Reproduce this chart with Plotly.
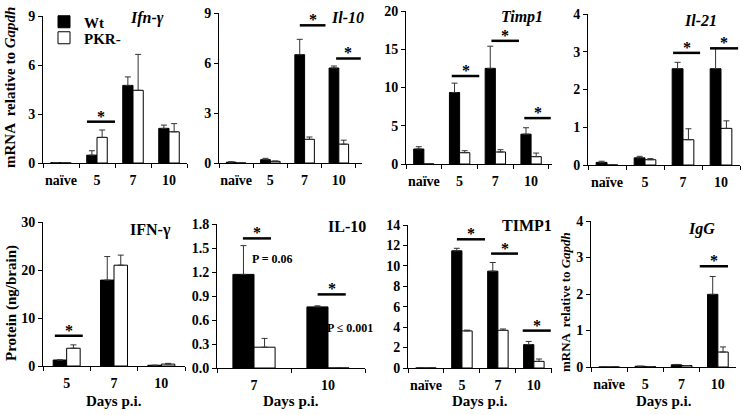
import plotly.graph_objects as go

W, H = 743, 415
FONT = "Liberation Serif, Times New Roman, serif"

# ---------------- data ----------------
cats4 = ["naïve", "5", "7", "10"]
cats3 = ["5", "7", "10"]
cats2 = ["7", "10"]

# mRNA panels (top row)
ifng_wt = [0.02, 0.48, 4.75, 2.12]
ifng_wt_err = [0.0, 0.27, 0.52, 0.20]
ifng_pkr = [0.0, 1.57, 4.45, 1.91]
ifng_pkr_err = [0.0, 0.45, 2.20, 0.50]

il10_wt = [0.05, 0.20, 6.50, 5.70]
il10_wt_err = [0.02, 0.08, 0.92, 0.12]
il10_pkr = [0.0, 0.10, 1.42, 1.13]
il10_pkr_err = [0.0, 0.02, 0.14, 0.24]

timp1_wt = [1.96, 9.35, 12.5, 3.90]
timp1_wt_err = [0.30, 1.22, 2.90, 0.84]
timp1_pkr = [0.0, 1.48, 1.57, 0.96]
timp1_pkr_err = [0.0, 0.26, 0.30, 0.47]

il21_wt = [0.07, 0.19, 2.55, 2.55]
il21_wt_err = [0.03, 0.04, 0.17, 0.55]
il21_pkr = [0.0, 0.14, 0.67, 0.97]
il21_pkr_err = [0.0, 0.03, 0.29, 0.20]

# protein panels + IgG (bottom row)
pifng_wt = [1.25, 17.9, 0.15]
pifng_wt_err = [0.0, 4.9, 0.0]
pifng_pkr = [3.7, 21.0, 0.40]
pifng_pkr_err = [0.7, 2.1, 0.15]

pil10_wt = [1.17, 0.764]
pil10_wt_err = [0.36, 0.013]
pil10_pkr = [0.26, 0.0]
pil10_pkr_err = [0.11, 0.0]

ptimp1_wt = [0.0, 11.47, 9.48, 2.29]
ptimp1_wt_err = [0.0, 0.25, 0.85, 0.31]
ptimp1_pkr = [0.0, 3.63, 3.69, 0.65]
ptimp1_pkr_err = [0.0, 0.08, 0.13, 0.23]

igg_wt = [0.0, 0.02, 0.06, 1.99]
igg_wt_err = [0.0, 0.0, 0.01, 0.49]
igg_pkr = [0.0, 0.01, 0.04, 0.41]
igg_pkr_err = [0.0, 0.0, 0.0, 0.14]

# significance marks: (panel index, category index, level)
sig_marks = [
    (0, 1, 2.53),
    (1, 2, 8.26), (1, 3, 6.27),
    (2, 1, 11.5), (2, 2, 16.1), (2, 3, 6.0),
    (3, 2, 2.97), (3, 3, 3.09),
    (4, 0, 6.3),
    (5, 0, 1.62), (5, 1, 0.92),
    (6, 1, 12.6), (6, 2, 11.2), (6, 3, 3.66),
    (7, 3, 2.76),
]
# horizontal extent of each significance line, relative to category centre
sig_extent = [
    (-0.28, 0.50),
    (-0.14, 0.61), (-0.08, 0.64),
    (-0.22, 0.55), (-0.11, 0.66), (-0.19, 0.55),
    (-0.26, 0.45), (-0.29, 0.45),
    (-0.25, 0.34),
    (-0.15, 0.23), (-0.14, 0.24),
    (-0.14, 0.64), (-0.19, 0.56), (-0.31, 0.47),
    (-0.50, 0.28),
]

panels = [
    dict(title="<i>Ifn-γ</i>", cats=cats4, wt=ifng_wt, wte=ifng_wt_err, pk=ifng_pkr, pke=ifng_pkr_err,
         yr=[0, 9], dt=3, fmt=None, px=(43, 187), py=(16, 163), tpos=(147, 18)),
    dict(title="<i>Il-10</i>", cats=cats4, wt=il10_wt, wte=il10_wt_err, pk=il10_pkr, pke=il10_pkr_err,
         yr=[0, 9], dt=3, fmt=None, px=(219, 362), py=(13, 163), tpos=(347, 17)),
    dict(title="<i>Timp1</i>", cats=cats4, wt=timp1_wt, wte=timp1_wt_err, pk=timp1_pkr, pke=timp1_pkr_err,
         yr=[0, 20], dt=5, fmt=None, px=(406, 552), py=(11, 164), tpos=(522, 17)),
    dict(title="<i>Il-21</i>", cats=cats4, wt=il21_wt, wte=il21_wt_err, pk=il21_pkr, pke=il21_pkr_err,
         yr=[0, 4], dt=1, fmt=None, px=(588, 740), py=(14, 165), tpos=(700, 20)),
    dict(title="IFN-γ", cats=cats3, wt=pifng_wt, wte=pifng_wt_err, pk=pifng_pkr, pke=pifng_pkr_err,
         yr=[0, 30], dt=10, fmt=None, px=(43, 185), py=(222, 366), tpos=(150, 230)),
    dict(title="IL-10", cats=cats2, wt=pil10_wt, wte=pil10_wt_err, pk=pil10_pkr, pke=pil10_pkr_err,
         yr=[0, 1.8], dt=0.3, fmt=".1f", px=(217, 365), py=(224, 368), tpos=(347, 226)),
    dict(title="TIMP1", cats=cats4, wt=ptimp1_wt, wte=ptimp1_wt_err, pk=ptimp1_pkr, pke=ptimp1_pkr_err,
         yr=[0, 14], dt=2, fmt=None, px=(408, 552), py=(225, 368), tpos=(527, 225)),
    dict(title="<i>IgG</i>", cats=cats4, wt=igg_wt, wte=igg_wt_err, pk=igg_pkr, pke=igg_pkr_err,
         yr=[0, 4], dt=1, fmt=None, px=(591, 736), py=(221, 367), tpos=(701, 229)),
]

fig = go.Figure()
annotations = []
shapes = []
layout = {}


def fx(p):
    return p / W


def fy(p):
    return 1 - p / H


for i, p in enumerate(panels):
    n = i + 1
    xa = "x" if n == 1 else f"x{n}"
    ya = "y" if n == 1 else f"y{n}"
    fig.add_trace(go.Bar(
        x=p["cats"], y=p["wt"], name="Wt", xaxis=xa, yaxis=ya,
        marker=dict(color="black", line=dict(color="black", width=1)),
        error_y=dict(type="data", symmetric=False, array=p["wte"], arrayminus=[0] * len(p["wte"]),
                     color="#333", thickness=1, width=3),
        showlegend=(i == 0), legend="legend",
    ))
    fig.add_trace(go.Bar(
        x=p["cats"], y=p["pk"], name="PKR-", xaxis=xa, yaxis=ya,
        marker=dict(color="white", line=dict(color="black", width=1)),
        error_y=dict(type="data", symmetric=False, array=p["pke"], arrayminus=[0] * len(p["pke"]),
                     color="#333", thickness=1, width=3),
        showlegend=(i == 0), legend="legend2",
    ))
    xkey = "xaxis" if n == 1 else f"xaxis{n}"
    ykey = "yaxis" if n == 1 else f"yaxis{n}"
    layout[xkey] = dict(
        domain=[fx(p["px"][0]), fx(p["px"][1])], anchor=ya, type="category",
        showline=True, linecolor="black", linewidth=1, ticks="outside", tickson="boundaries",
        ticklen=4, tickcolor="black", showgrid=False, zeroline=False, tickangle=0,
        automargin=False,
        tickfont=dict(family=FONT, size=14, color="black", weight="bold"),
        ticklabelstandoff=4, fixedrange=True,
    )
    layout[ykey] = dict(
        domain=[fy(p["py"][1]), fy(p["py"][0])], anchor=xa, range=p["yr"],
        tick0=0, dtick=p["dt"], tickformat=p["fmt"], automargin=False,
        showline=True, linecolor="black", linewidth=1, ticks="outside", ticklen=4,
        tickcolor="black", showgrid=False, zeroline=False,
        tickfont=dict(family=FONT, size=14, color="black", weight="bold"), fixedrange=True,
    )
    annotations.append(dict(
        text=p["title"], x=fx(p["tpos"][0]), y=fy(p["tpos"][1]), xref="paper", yref="paper",
        xanchor="center", yanchor="middle", showarrow=False,
        font=dict(family=FONT, size=16, color="black", weight="bold"),
    ))

for (pi, ci, lvl), (o0, o1) in zip(sig_marks, sig_extent):
    n = pi + 1
    xr = "x" if n == 1 else f"x{n}"
    yr = "y" if n == 1 else f"y{n}"
    shapes.append(dict(type="line", xref=xr, yref=yr, x0=ci + o0, x1=ci + o1, y0=lvl, y1=lvl,
                       line=dict(color="black", width=2.5)))
    annotations.append(dict(text="*", xref=xr, yref=yr, x=ci + (o0 + o1) / 2, y=lvl,
                            xanchor="center", yanchor="bottom", showarrow=False, yshift=-5,
                            font=dict(family=FONT, size=16, color="black", weight="bold")))


def note(text, x, y, size, angle=0):
    annotations.append(dict(text=text, x=fx(x), y=fy(y), xref="paper", yref="paper",
                            xanchor="center", yanchor="middle", textangle=angle, showarrow=False,
                            font=dict(family=FONT, size=size, color="black", weight="bold")))


# p-value notes
note("P = 0.06", 272, 259, 12)
note("P ≤ 0.001", 350, 328, 12)

# axis titles
note("mRNA  relative to <i>Gapdh</i>", 10, 88, 15, -90)
note("Protein (ng/brain)", 11, 303, 15, -90)
note("mRNA  relative to <i>Gapdh</i>", 565, 302, 13, -90)
for cx in [(43 + 185) / 2, (217 + 365) / 2, (408 + 552) / 2, (591 + 736) / 2]:
    note("Days p.i.", cx, 401, 15)

legfont = dict(family=FONT, size=15, color="black", weight="bold")
fig.update_layout(
    width=W, height=H, margin=dict(l=0, r=0, t=0, b=0, autoexpand=False),
    paper_bgcolor="white", plot_bgcolor="white",
    barmode="group", bargap=0.43, bargroupgap=0,
    showlegend=True,
    legend=dict(x=fx(44), y=fy(22), xanchor="left", yanchor="middle", bgcolor="rgba(0,0,0,0)",
                itemwidth=30, font=legfont),
    legend2=dict(x=fx(44), y=fy(38), xanchor="left", yanchor="middle", bgcolor="rgba(0,0,0,0)",
                 itemwidth=30, font=legfont),
    annotations=annotations, shapes=shapes,
    **layout,
)

fig.write_html("out.html", config={"displayModeBar": False},
               post_script="document.body.style.margin='0';document.body.style.overflow='hidden';")
